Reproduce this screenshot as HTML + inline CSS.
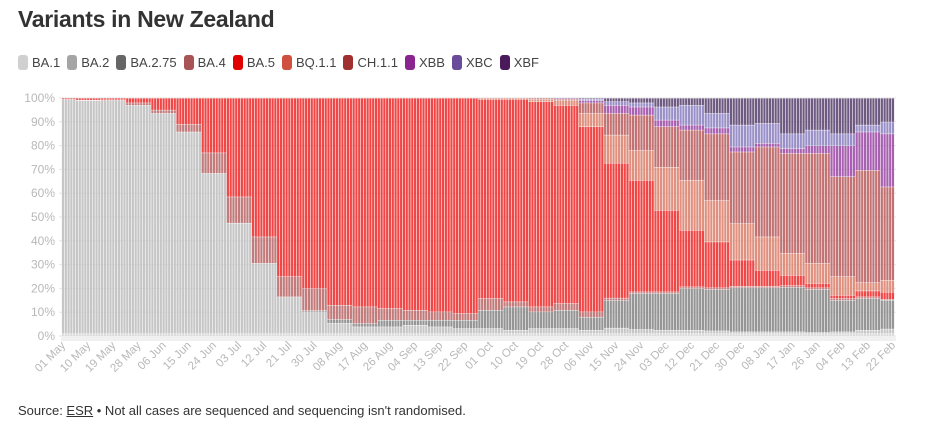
<!DOCTYPE html>
<html><head><meta charset="utf-8">
<style>
body{margin:0;background:#fff;font-family:"Liberation Sans",sans-serif;}
#wrap{position:relative;width:940px;height:439px;overflow:hidden;}
h1{position:absolute;left:18px;top:6px;margin:0;font-size:23px;font-weight:bold;color:#333;letter-spacing:-0.3px;}
#legend{position:absolute;left:18px;top:55px;font-size:13px;color:#444;display:flex;gap:7px;}
.li{display:flex;align-items:center;gap:4px;}
.sw{width:10px;height:15px;border-radius:3px;display:inline-block;}
#src{position:absolute;left:18px;top:403px;font-size:13px;color:#333;}
#src u{text-decoration:underline;}
</style></head><body>
<div id="wrap">
<h1>Variants in New Zealand</h1>
<div id="legend"></div>
<svg id="chart" width="940" height="439" style="position:absolute;left:0;top:0"></svg>
<div id="src">Source: <u>ESR</u> • Not all cases are sequenced and sequencing isn't randomised.</div>
</div>
<script>
const tickLabels=["01 May","10 May","19 May","28 May","06 Jun","15 Jun","24 Jun","03 Jul","12 Jul","21 Jul","30 Jul","08 Aug","17 Aug","26 Aug","04 Sep","13 Sep","22 Sep","01 Oct","10 Oct","19 Oct","28 Oct","06 Nov","15 Nov","24 Nov","03 Dec","12 Dec","21 Dec","30 Dec","08 Jan","17 Jan","26 Jan","04 Feb","13 Feb","22 Feb"];
const variants=["BA.1","BA.2","BA.2.75","BA.4","BA.5","BQ.1.1","CH.1.1","XBB","XBC","XBF"];
const BA1=[1,1,1,1,1,1,1,1,1,1,1,1,1,1,1,1,1,1,1,1,1,1,1,1,1,1,1,1,1,1,1,1,1,1];
const BA2=[98.5,98,98,96,92.6,84.8,67.4,46.5,29.6,15.5,9.2,4.4,2.9,2.9,3.6,2.9,2.2,2.2,1.5,2.2,2.2,1.5,2.4,1.8,1.5,1.5,1.2,0.8,0.8,0.8,0.5,0.8,1.5,2];
const BA275=[0,0,0,0,0,0,0,0,0,0,0.5,1.6,1.4,2.8,2.1,2.8,3.5,7.7,9.8,7,7.7,5.5,11.6,15.1,15.4,17.5,17.4,18.5,18.5,18.7,18.1,13.3,13.3,12.1];
const BA4=[0,0.2,0.3,1,1.4,3.2,8.6,11,11.1,8.5,9.3,6,7,4.9,4.2,3.5,2.8,4.9,2.1,2.1,2.8,2.2,1,0.7,0.7,0.7,0.7,0.7,0.7,0.7,0.7,0.7,0.7,0.4];
const BA5=[0.5,0.8,0.7,2,5,11,23,41.5,58.3,75,80,87,87.7,88.4,89.1,89.8,90.5,83.7,85.1,86.2,83.3,77.8,56.7,46.9,34.3,23.8,19.3,11,6.7,4.4,1.9,1.4,2.5,3];
const BQ11=[0,0,0,0,0,0,0,0,0,0,0,0,0,0,0,0,0,0.5,0.5,1,2,5.6,11.8,12.5,18.1,21,17.4,15.3,14,9.2,8.4,7.8,3.5,5];
const CH11=[0,0,0,0,0,0,0,0,0,0,0,0,0,0,0,0,0,0,0,0.5,0.6,4.4,9.1,14.9,17,21.1,28,30.1,37.8,42,46.2,42,47.2,39.2];
const XBB=[0,0,0,0,0,0,0,0,0,0,0,0,0,0,0,0,0,0,0,0,0.4,1,3.4,3.4,2.8,2.1,2.5,2.1,1.5,2,3.2,13,16.1,22.3];
const XBC=[0,0,0,0,0,0,0,0,0,0,0,0,0,0,0,0,0,0,0,0,0,0.6,1.5,1.7,5.5,8.3,6.1,9.2,8.4,6.2,6.6,5,2.9,5];
const XBF=[0,0,0,0,0,0,0,0,0,0,0,0,0,0,0,0,0,0,0,0,0,0.4,1.5,2,3.7,3,6.4,11.3,10.6,15,13.4,15,11.3,10];
const series=[BA1,BA2,BA275,BA4,BA5,BQ11,CH11,XBB,XBC,XBF];
const legendColors=["#d0d0d0","#a5a5a5","#666666","#a85454","#e00000","#d05040","#a03030","#8a2590","#6a4a9a","#4a1a5a"];
const barColors=["#dcdcdc","#c6c6c6","#959595","#c27a7a","#f04646","#e0907e","#c27272","#a860b0","#9a90c8","#6e5a80"];

const NS="http://www.w3.org/2000/svg";
const svg=document.getElementById('chart');
const X0=63,X1=893,Y0=336,Y1=98,NDAYS=298;
const step=(X1-X0)/(NDAYS-1);
function xDay(d){return X0+d*step;}
function yPct(p){return Y0-(Y0-Y1)*p/100;}
function mk(tag,attrs){const e=document.createElementNS(NS,tag);for(const k in attrs)e.setAttribute(k,attrs[k]);svg.appendChild(e);return e;}

const lg=document.getElementById('legend');
variants.forEach((v,i)=>{const d=document.createElement('span');d.className='li';


d.innerHTML='<span class="sw" style="background:'+legendColors[i]+'"></span>'+v;lg.appendChild(d);});

for(let p=0;p<=100;p+=10){
 const g=mk('line',{x1:X0-4,x2:X1+3,y1:yPct(p),y2:yPct(p),stroke:'#e6e6e6','stroke-width':1});
 
 
 const t=mk('text',{x:X0-8,y:yPct(p)+4,'text-anchor':'end','font-size':12,fill:'#b8b8b8','font-family':'Liberation Sans, sans-serif'});
 t.textContent=p+'%';
 
 
}
const bb=mk('rect',{x:X0-2,y:Y0,width:X1-X0+5,height:5,fill:'#f0f0f0'});



for(let d=0;d<NDAYS;d++){
 const k=Math.min(series[0].length-1,Math.round(d/9));
 let tot=0;series.forEach(s=>tot+=s[k]);
 let cum=0;
 series.forEach((s,i)=>{
  const v=s[k]/tot*100;if(v<=0)return;
  const ya=yPct(cum+v),yb=yPct(cum);cum+=v;
  const r=mk('rect',{x:xDay(d)-step/2+0.3,y:ya+0.4,width:step-0.6,height:Math.max(0,yb-ya-0.4),fill:barColors[i]});
  
  
 });
}
tickLabels.forEach((lab,i)=>{
 const x=xDay(i*9);
 const t=mk('text',{x:x+3,y:346,'text-anchor':'end','font-size':11.5,fill:'#b8b8b8','font-family':'Liberation Sans, sans-serif',transform:'rotate(-45 '+(x+3)+' 346)'});
 t.textContent=lab;
 
 
});
</script>
</body></html>
